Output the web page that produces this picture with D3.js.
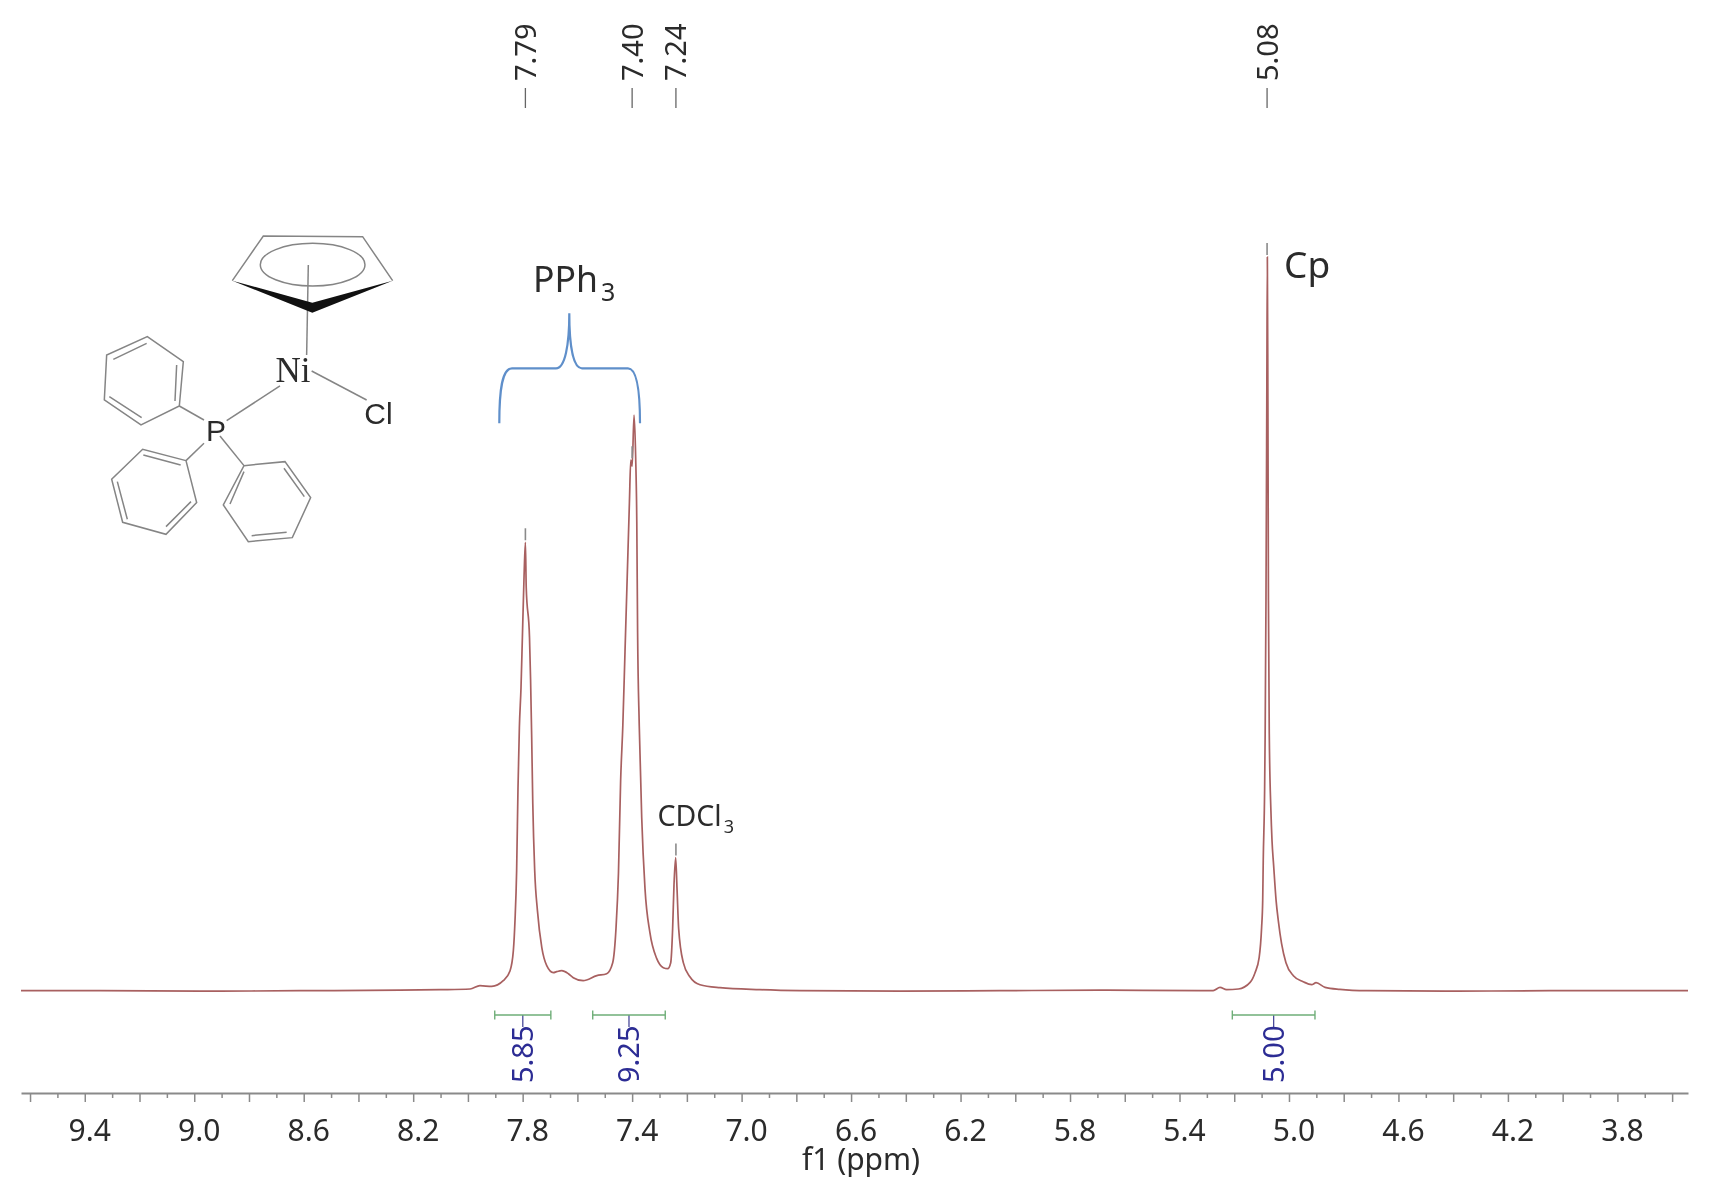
<!DOCTYPE html>
<html>
<head>
<meta charset="utf-8">
<script src="https://cdn.jsdelivr.net/npm/d3@7"></script>
<style>
    html, body { margin: 0; padding: 0; background: #fff; }
    svg { display: block; filter: blur(0.6px); }
    text { font-family: "Noto Sans", sans-serif; fill: #2b2b2b; }
</style>
</head>
<body>
<svg id="chart" width="1711" height="1198"></svg>
<script>
// Spektrum
const shifts = [
    9.633, 9.344, 8.979, 8.613, 8.248, 8.102, 7.992, 7.956, 7.913, 7.871, 7.846, 7.834, 7.828,
    7.822, 7.817, 7.812, 7.806, 7.801, 7.795, 7.790, 7.787, 7.775, 7.771, 7.767, 7.763, 7.756,
    7.746, 7.730, 7.712, 7.688, 7.676, 7.657, 7.633, 7.615, 7.579, 7.529, 7.493, 7.471, 7.459,
    7.450, 7.442, 7.434, 7.426, 7.418, 7.410, 7.405, 7.400, 7.393, 7.387, 7.383, 7.380, 7.374,
    7.365, 7.353, 7.335, 7.310, 7.286, 7.270, 7.259, 7.252, 7.247, 7.241, 7.236, 7.230, 7.213,
    7.189, 7.152, 7.079, 6.933, 6.787, 6.421, 6.056, 5.691, 5.325, 5.277, 5.252, 5.228, 5.185,
    5.142, 5.124, 5.109, 5.100, 5.096, 5.094, 5.089, 5.087, 5.084, 5.081, 5.079, 5.077, 5.075,
    5.072, 5.066, 5.062, 5.056, 5.047, 5.039, 5.027, 5.011, 4.984, 4.948, 4.917, 4.901, 4.868,
    4.814, 4.716, 4.412, 4.046, 3.542
];
const intensity = [
    0, 0, -0.5, 0, 0.5, 1, 1.7, 5, 4.3, 10, 20, 40, 70,
    120, 203, 263, 303, 353, 413, 448, 403, 353, 310, 253, 187, 120,
    80, 43, 25, 18, 19, 20, 17, 13, 10, 15, 17, 28, 62,
    117, 210, 265, 339, 413, 487, 530, 524, 575, 532, 469, 358, 265,
    173, 102, 58, 32, 23, 22, 28, 62, 106, 133, 102, 62, 28,
    14, 6, 3, 1, 0, -0.5, 0, 0.5, 0, 0, 3.3, 1, 1.7,
    8.3, 18, 33, 63, 90, 130, 200, 257, 390, 590, 733, 590, 390,
    257, 180, 150, 125, 90, 70, 47, 28, 15, 9, 6, 8, 3.3,
    1.3, 0, -0.5, 0, 0
];

// Peak-Beschriftung oben
const peakLabels = ["7.79", "7.40", "7.24", "5.08"];
const peakShifts = [7.79, 7.40, 7.24, 5.08];
const peakTops = [448, 530, 133, 733];

// Integrale
const integralLabels = ["5.85", "9.25", "5.00"];
const integralFrom = [7.902, 7.544, 5.207];
const integralTo = [7.697, 7.279, 4.905];

// Achse
const majorTicks = [9.6, 9.4, 9.2, 9.0, 8.8, 8.6, 8.4, 8.2, 8.0, 7.8, 7.6, 7.4, 7.2, 7.0, 6.8, 6.6,
    6.4, 6.2, 6.0, 5.8, 5.6, 5.4, 5.2, 5.0, 4.8, 4.6, 4.4, 4.2, 4.0, 3.8, 3.6];
const minorTicks = [9.5, 9.3, 9.1, 8.9, 8.7, 8.5, 8.3, 8.1, 7.9, 7.7, 7.5, 7.3, 7.1, 6.9, 6.7, 6.5,
    6.3, 6.1, 5.9, 5.7, 5.5, 5.3, 5.1, 4.9, 4.7, 4.5, 4.3, 4.1, 3.9, 3.7];
const tickLabels = [9.4, 9.0, 8.6, 8.2, 7.8, 7.4, 7.0, 6.6, 6.2, 5.8, 5.4, 5.0, 4.6, 4.2, 3.8];

const svg = d3.select("#chart");

const x = d3.scaleLinear().domain([9.633, 3.542]).range([21, 1688]);
const y = d3.scaleLinear().domain([0, 733]).range([990.7, 257]);

const gray = "#8a8a8a";
const axisY = 1093;

// Spektrum
const line = d3.line()
    .x((d, i) => x(shifts[i]))
    .y(d => y(d))
    .curve(d3.curveMonotoneX);

svg.append("path")
    .attr("d", line(intensity))
    .attr("fill", "none")
    .attr("stroke", "#a86060")
    .attr("stroke-width", 1.7);

// Achse unten
const minorAxis = d3.axisBottom(x).tickValues(minorTicks).tickSize(5).tickFormat("");
const majorAxis = d3.axisBottom(x).tickValues(majorTicks).tickSize(9).tickSizeOuter(0)
    .tickFormat(d => tickLabels.includes(d) ? d.toFixed(1) : "");

svg.append("g").attr("transform", `translate(0,${axisY})`).call(minorAxis)
    .call(g => g.select(".domain").remove())
    .selectAll("line").attr("stroke", gray).attr("stroke-width", 1.5);

const gAxis = svg.append("g").attr("transform", `translate(0,${axisY})`).call(majorAxis);
gAxis.select(".domain").attr("stroke", gray).attr("stroke-width", 1.8);
gAxis.selectAll("line").attr("stroke", gray).attr("stroke-width", 1.5);
gAxis.selectAll("text")
    .attr("font-size", 30)
    .attr("font-family", '"Noto Sans", sans-serif')
    .attr("fill", "#2b2b2b")
    .attr("dx", 4.5)
    .attr("y", 48)
    .attr("dy", 0);

svg.append("text")
    .attr("x", 861).attr("y", 1170)
    .attr("text-anchor", "middle")
    .attr("font-size", 30)
    .text("f1 (ppm)");

// Peak-Marken
peakLabels.forEach((label, i) => {
    const px = x(peakShifts[i]);
    svg.append("line")
        .attr("x1", px).attr("x2", px)
        .attr("y1", 88).attr("y2", 108)
        .attr("stroke", "#666").attr("stroke-width", 1.3);
    svg.append("line")
        .attr("x1", px).attr("x2", px)
        .attr("y1", y(peakTops[i]) - 14).attr("y2", y(peakTops[i]) - 2)
        .attr("stroke", gray).attr("stroke-width", 1.6);
    svg.append("text")
        .attr("transform", `translate(${px},81) rotate(-90)`)
        .attr("dy", "0.36em")
        .attr("font-size", 29)
        .text(label);
});

// Integrale
integralLabels.forEach((label, i) => {
    const x0 = x(integralFrom[i]);
    const x1 = x(integralTo[i]);
    const mid = (x0 + x1) / 2;
    const iy = 1015;
    svg.append("line")
        .attr("x1", mid).attr("x2", mid)
        .attr("y1", iy).attr("y2", 1027)
        .attr("stroke", "#4a4a9a").attr("stroke-width", 1.3);
    svg.append("path")
        .attr("d", `M${x0},${iy - 4.5}V${iy + 4.5}M${x0},${iy}H${x1}M${x1},${iy - 4.5}V${iy + 4.5}`)
        .attr("fill", "none")
        .attr("stroke", "#6fae78").attr("stroke-width", 1.4);
    svg.append("text")
        .attr("transform", `translate(${mid},1083) rotate(-90)`)
        .attr("dy", "0.36em")
        .attr("font-size", 29)
        .style("fill", "#2c2c94")
        .text(label);
});

// Klammer PPh3
svg.append("path")
    .attr("d", "M499.3,423.3C499.3,390 502,368.3 512,368.3H556C565,368.3 569.3,345 569.3,313.3C569.3,345 573,368.3 582,368.3H628C637,368.3 640,390 640,423.3")
    .attr("fill", "none")
    .attr("stroke", "#5f8fca")
    .attr("stroke-width", 2.2);

function addLabel(sel, tx, ty, size, main, sub, subDx, subDy, subSize) {
    const t = sel.append("text").attr("x", tx).attr("y", ty).attr("font-size", size).text(main);
    if (sub) {
        t.append("tspan").attr("dx", subDx).attr("dy", subDy).attr("font-size", subSize).text(sub);
    }
}
addLabel(svg, 533, 292, 35.5, "PPh", "3", 3, 9, 25);
addLabel(svg, 1284, 278, 37, "Cp");
addLabel(svg, 657.5, 826, 28.5, "CDCl", "3", 2, 7, 18);

// Strukturformel (Zeichnung, keine Daten)
const mol = svg.append("g")
    .attr("transform", "translate(60,200) scale(0.3333)")
    .attr("fill", "none")
    .attr("stroke", "#858585")
    .attr("stroke-width", 4.5);

const bonds = [
    "M517,242L610,108L908,110L998,242",
    "M745,195L740,465",
    "M755,513L920,600",
    "M660,558L500,662",
    "M432,660L358,618",
    "M432,730L378,782",
    "M480,708L552,797",
    "M358,618L370,485L262,410L140,465L133,600L243,675Z",
    "M160,478L260,430M350,495L345,603M148,590L245,653",
    "M378,782L248,748L155,838L188,967L318,1003L410,908Z",
    "M250,765L362,795M172,845L202,958M318,980L393,905",
    "M552,797L675,785L752,893L697,1013L565,1025L490,915Z",
    "M672,805L733,890M680,997L575,1007M510,912L552,815"
];
mol.selectAll("path.bond").data(bonds).join("path").attr("class", "bond").attr("d", d => d);

mol.append("ellipse")
    .attr("cx", 758).attr("cy", 194)
    .attr("rx", 157).attr("ry", 64);

mol.append("path")
    .attr("d", "M517,242L757,308L998,242L757,338Z")
    .attr("fill", "#111")
    .attr("stroke", "none");

svg.append("text")
    .attr("x", 293).attr("y", 381.5)
    .style("font-family", '"Liberation Serif", serif')
    .attr("font-size", 35)
    .attr("text-anchor", "middle")
    .text("Ni");
svg.append("text")
    .attr("x", 378.5).attr("y", 424)
    .style("font-family", '"Liberation Sans", sans-serif')
    .attr("font-size", 30)
    .attr("text-anchor", "middle")
    .text("Cl");
svg.append("text")
    .attr("x", 216).attr("y", 440.5)
    .style("font-family", '"Liberation Sans", sans-serif')
    .attr("font-size", 30)
    .attr("text-anchor", "middle")
    .text("P");
</script>
</body>
</html>
